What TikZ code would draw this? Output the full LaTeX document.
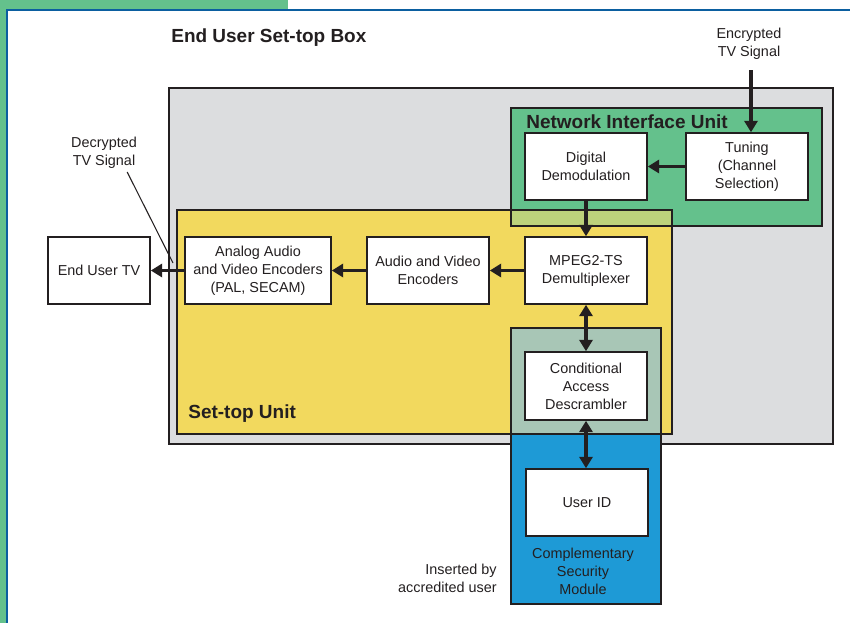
\documentclass[tikz,border=0pt]{standalone}
\usepackage{fontspec}
\setmainfont{Liberation Sans}
\usetikzlibrary{arrows.meta}

\definecolor{framegreen}{HTML}{64C18C}
\definecolor{frameblue}{HTML}{0B5FA0}
\definecolor{boxgray}{HTML}{DCDDDF}
\definecolor{niugreen}{HTML}{64C18C}
\definecolor{stuyellow}{HTML}{F2D95E}
\definecolor{mixgreen}{HTML}{BDD27B}
\definecolor{casgray}{HTML}{A8C6B6}
\definecolor{csmblue}{HTML}{1E9AD6}
\definecolor{ink}{HTML}{231F20}

\begin{document}
\begin{tikzpicture}[x=0.02cm,y=-0.02cm,
  every node/.style={font=\fontsize{8.2}{10.2}\selectfont,text=ink},
  unit/.style={draw=ink,line width=0.9pt},
  blk/.style={draw=ink,line width=0.9pt,fill=white,align=center,minimum width=2.44cm,minimum height=1.34cm,inner sep=1pt},
  head/.style={font=\fontsize{10.8}{13}\selectfont\bfseries,anchor=west,inner sep=0pt},
  sig/.style={align=center,inner sep=0pt},
  arr/.style={draw=ink,line width=2pt,-{Triangle[length=6.5pt,width=7.5pt]}},
  dblarr/.style={draw=ink,line width=2pt,{Triangle[length=6.5pt,width=7.5pt]}-{Triangle[length=6.5pt,width=7.5pt]}}]
\useasboundingbox (0,0) rectangle (850,623);
\fill[framegreen] (0,0) rectangle (288,9);
\fill[framegreen] (0,0) rectangle (6,623);
\draw[frameblue,line width=1.2pt] (7,623) -- (7,10) -- (850,10);

\draw[unit,fill=boxgray] (169,88) rectangle (833,444);
\fill[niugreen] (511,108) rectangle (822,226);
\fill[stuyellow] (177,210) rectangle (672,434);
\fill[mixgreen] (511,210) rectangle (672,226);
\draw[unit] (511,108) rectangle (822,226);
\draw[unit] (177,210) rectangle (672,434);
\draw[unit,fill=csmblue] (511,328) rectangle (661,604);
\draw[unit,fill=casgray] (511,328) rectangle (661,434);

\node[head] (boxtitle) at (171,38) {End User Set-top Box};
\node[head] (niutitle) at (526,122) {Network Interface Unit};
\node[head] (stutitle) at (188,414) {Set-top Unit};

\node[blk] (demod) at (586,166.5) {Digital\\Demodulation};
\node[blk] (tuning) at (747,166.5) {Tuning\\(Channel\\Selection)};
\node[blk] (mpeg) at (586,270.5) {MPEG2-TS\\Demultiplexer};
\node[blk] (avenc) at (428,270.5) {Audio and Video\\Encoders};
\node[blk,minimum width=2.92cm] (analog) at (258,270.5) {Analog Audio\\and Video Encoders\\(PAL, SECAM)};
\node[blk,minimum width=2.04cm] (tv) at (99,270.5) {End User TV};
\node[blk,minimum height=1.36cm] (cad) at (586,386) {Conditional\\Access\\Descrambler};
\node[blk] (userid) at (587,502.5) {User ID};

\node[sig] (encsig) at (749,44) {Encrypted\\TV Signal};
\node[sig] (decsig) at (104,153) {Decrypted\\TV Signal};
\node[sig] (csm) at (583,571) {Complementary\\Security\\Module};
\node[sig,align=right,anchor=east] (inserted) at (497,578) {Inserted by\\accredited user};

\coordinate (encin) at (751,70);
\draw[arr] (encin) -- (encin |- tuning.north);
\draw[arr] (tuning.west) -- (demod.east);
\draw[arr] (demod.south) -- (mpeg.north);
\draw[arr] (mpeg.west) -- (avenc.east);
\draw[arr] (avenc.west) -- (analog.east);
\draw[arr] (analog.west) -- (tv.east);
\draw[dblarr] (mpeg.south) -- (cad.north);
\draw[dblarr] (cad.south) -- (cad.south |- userid.north);
\coordinate (decptr) at (173,263);
\draw[ink,line width=0.6pt] ([xshift=-0.2cm,yshift=-0.06cm]decsig.south east) -- (decptr);
\end{tikzpicture}
\end{document}
